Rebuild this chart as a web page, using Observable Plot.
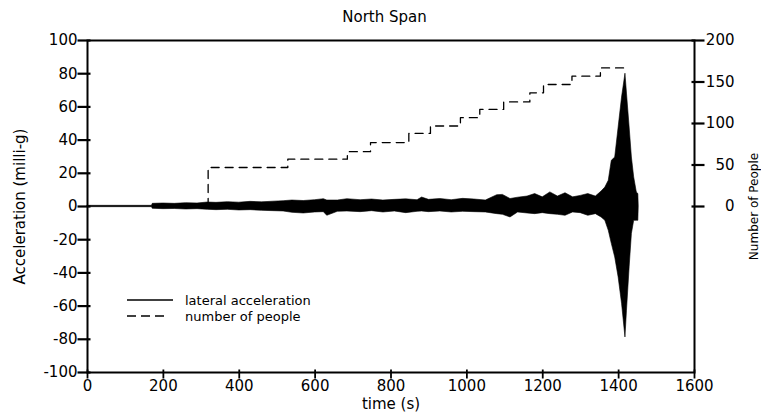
<!DOCTYPE html>
<html>
<head>
<meta charset="utf-8">
<script src="https://cdn.jsdelivr.net/npm/d3@7"></script>
<script src="https://cdn.jsdelivr.net/npm/@observablehq/plot@0.6"></script>
<style>
  html, body { margin: 0; padding: 0; background: #fff; }
  #wrap { position: relative; width: 761px; height: 415px; font-family: "DejaVu Sans", sans-serif; }
  #title { height: 30px; line-height: 30px; padding-top: 2px; box-sizing: border-box; text-align: center; font-size: 15px; color: #000; padding-left: 8px; }
  #legend { position: absolute; left: 127px; top: 292px; font-size: 13px; color: #000; }
  .row { display: flex; align-items: center; height: 16px; }
  .row svg { margin-right: 12px; }
</style>
</head>
<body>
<div id="wrap">
  <div id="title">North Span</div>
  <div id="chart"></div>
  <div id="legend">
    <div class="row"><svg width="46" height="4"><line x1="0" x2="46" y1="2" y2="2" stroke="#000" stroke-width="1.6"/></svg>lateral acceleration</div>
    <div class="row"><svg width="46" height="4"><line x1="0" x2="40" y1="2" y2="2" stroke="#000" stroke-width="1.3" stroke-dasharray="9,5"/></svg>number of people</div>
  </div>
</div>
<script>
// Lateral acceleration envelope (milli-g)
const accTime = [0, 170, 172, 200, 230, 260, 290, 317, 340, 370, 400, 430, 460, 490, 517, 540, 570, 600, 623, 632, 660, 685, 720, 750, 780, 810, 840, 870, 882, 900, 930, 960, 990, 1020, 1050, 1080, 1095, 1115, 1135, 1160, 1180, 1200, 1220, 1240, 1260, 1280, 1300, 1320, 1340, 1355, 1365, 1374, 1382, 1391, 1400, 1409, 1418, 1422, 1429, 1435, 1441, 1448, 1452, 1453];
const accUpper = [0.4, 0.4, 1.6, 1.8, 1.6, 2.0, 1.8, 2.4, 2.2, 2.6, 2.3, 2.8, 2.5, 2.9, 3.2, 3.6, 3.3, 3.8, 4.4, 3.6, 3.6, 4.4, 3.8, 4.2, 3.6, 4.0, 4.3, 3.8, 5.4, 4.0, 4.5, 3.8, 4.6, 4.2, 3.6, 6.8, 7.0, 4.5, 5.3, 6.0, 7.5, 5.5, 8.5, 6.0, 8.0, 5.5, 6.4, 7.5, 6.0, 9.0, 11.4, 15.5, 27.5, 29.5, 47.6, 65.6, 80, 68, 47.6, 29.5, 17.5, 8.4, 7.5, 0];
const accLower = [-0.4, -0.4, -1.4, -1.6, -1.5, -1.8, -1.6, -2.0, -2.2, -2.0, -2.4, -2.2, -2.6, -2.8, -3.0, -3.8, -4.2, -3.6, -3.4, -5.6, -3.2, -3.0, -3.4, -2.8, -3.6, -3.0, -4.0, -3.2, -3.0, -3.4, -3.0, -3.6, -3.2, -3.4, -3.6, -4.6, -5.0, -6.6, -3.6, -4.2, -4.6, -4.0, -4.6, -5.0, -5.6, -3.6, -4.0, -5.6, -4.6, -6.6, -8.6, -14.6, -22.5, -30.7, -42.7, -58.6, -78.9, -62.8, -36.7, -16.5, -8.6, -8.6, -8.6, 0];

// Number of people on the span (step function)
const peopleTime = [318, 318, 528, 685, 746, 847, 904, 983, 1034, 1097, 1166, 1202, 1277, 1352, 1426];
const peopleCount = [0, 47, 57, 66, 77, 88, 97, 107, 117, 126, 137, 147, 157, 167, 167];

// Axis ticks
const xTicks = [0, 200, 400, 600, 800, 1000, 1200, 1400, 1600];
const accTicks = [-100, -80, -60, -40, -20, 0, 20, 40, 60, 80, 100];
const peopleTicks = [0, 50, 100, 150, 200];

const acc = accTime.map((t, i) => ({t, hi: accUpper[i], lo: accLower[i]}));
const people = peopleTime.map((t, i) => ({t, p: peopleCount[i]}));

const W = 761, H = 385, mT = 10, mB = 43, mL = 87, mR = 67;
const frameW = W - mL - mR, frameH = H - mT - mB;
const xPerPx = 1600 / frameW, yPerPx = 200 / frameH;

const chart = Plot.plot({
  width: W,
  height: H,
  marginTop: mT,
  marginBottom: mB,
  marginLeft: mL,
  marginRight: mR,
  style: {fontFamily: "DejaVu Sans, sans-serif", fontSize: "15px", color: "#000", background: "#fff"},
  x: {domain: [0, 1600]},
  y: {domain: [-100, 100]},
  marks: [
    Plot.areaY(acc, {x: "t", y1: "lo", y2: "hi", fill: "#000", stroke: "#000", strokeWidth: 0.6}),
    Plot.line(people, {x: "t", y: d => d.p / 2, curve: "step-after", stroke: "#000", strokeWidth: 1.3, strokeDasharray: "8,6"}),
    Plot.frame({stroke: "#000", strokeWidth: 2}),
    // tick marks, crossing the frame edge a little
    Plot.link(accTicks, {x1: 3 * xPerPx, x2: -10 * xPerPx, y1: d => d, y2: d => d, stroke: "#000", strokeWidth: 2.2}),
    Plot.link(peopleTicks, {x1: 1600 - 3 * xPerPx, x2: 1600 + 10 * xPerPx, y1: d => d / 2, y2: d => d / 2, stroke: "#000", strokeWidth: 2.2}),
    Plot.link(xTicks, {x1: d => d, x2: d => d, y1: -100 + 3 * yPerPx, y2: -100 - 6 * yPerPx, stroke: "#000", strokeWidth: 1.8}),
    // tick labels
    Plot.axisX({ticks: xTicks, tickSize: 0, tickPadding: 8, label: null, tickFormat: d => String(d)}),
    Plot.axisY({ticks: accTicks, tickSize: 0, tickPadding: 10, label: null, tickFormat: d => String(d)}),
    Plot.axisY({anchor: "right", ticks: peopleTicks.map(p => p / 2), tickFormat: d => String(d * 2), tickSize: 0, tickPadding: 40, textAnchor: "end", label: null}),
    Plot.text(["time (s)"], {frameAnchor: "bottom", dy: 32, fontSize: 15, lineAnchor: "middle"}),
    Plot.text(["Acceleration (milli-g)"], {frameAnchor: "left", dx: -67, rotate: -90, fontSize: 15, textAnchor: "middle"}),
    Plot.text(["Number of People"], {frameAnchor: "right", dx: 60, rotate: -90, fontSize: 12, textAnchor: "middle"})
  ]
});
document.getElementById("chart").appendChild(chart);
</script>
</body>
</html>
